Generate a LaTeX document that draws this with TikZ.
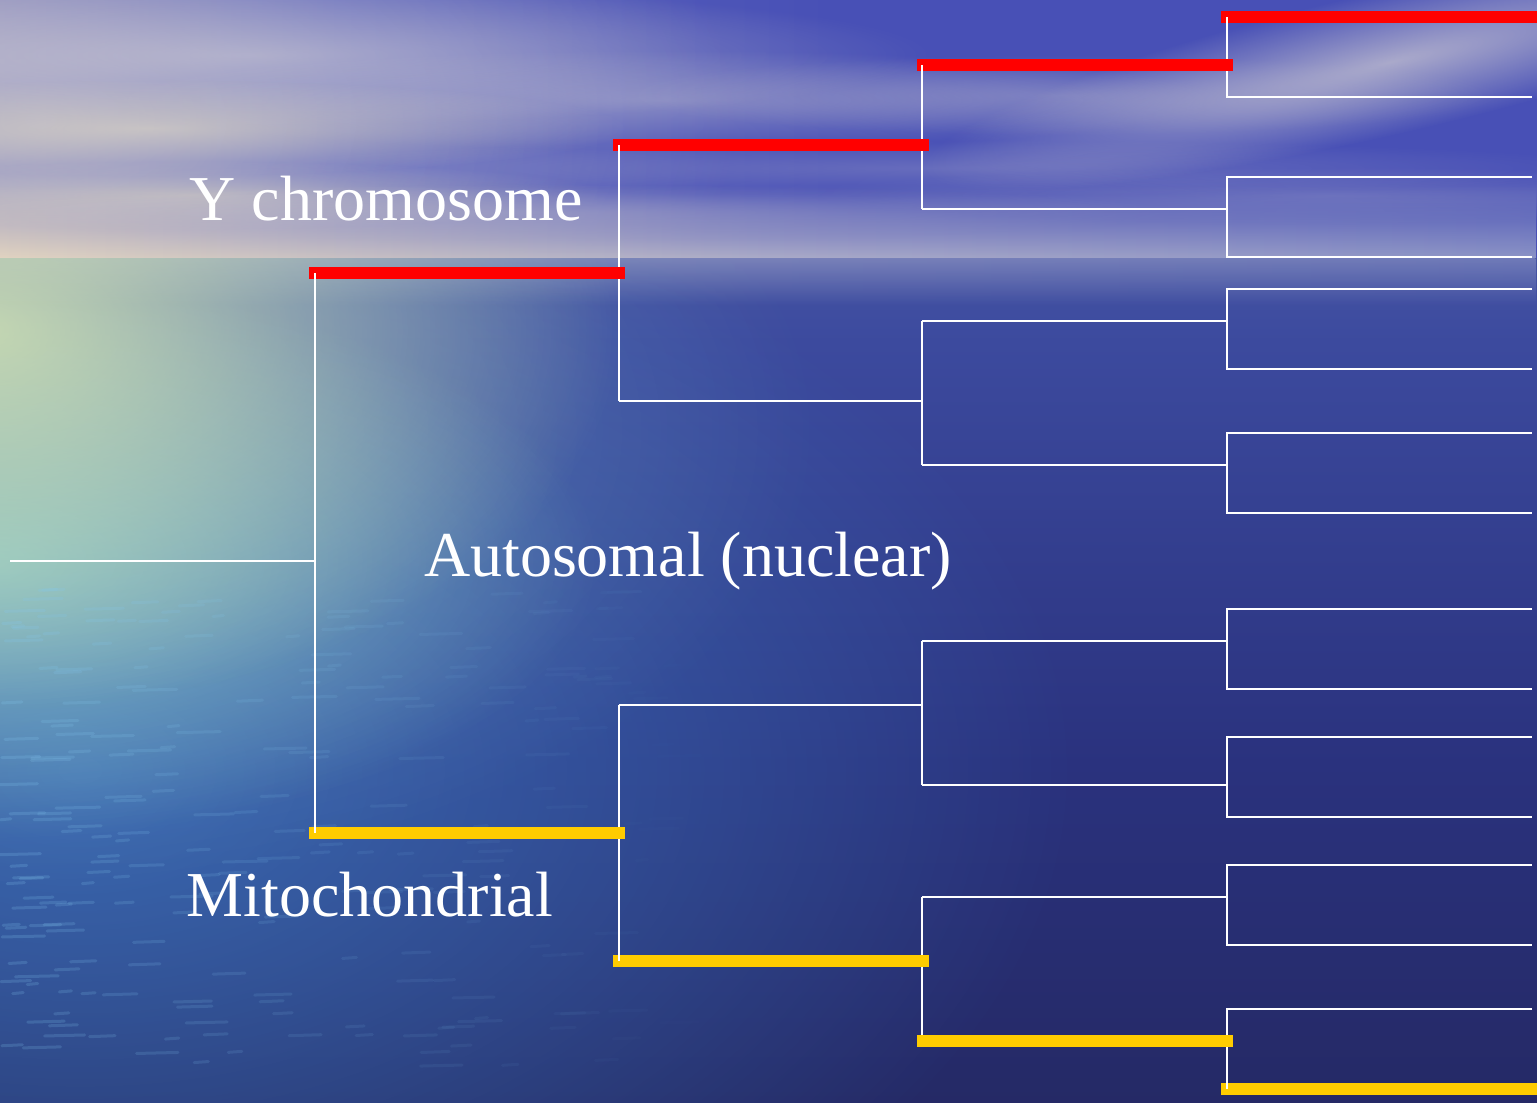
\documentclass[tikz,border=0pt]{standalone}
\usepackage{fontspec}
\setmainfont{Liberation Serif}
\usetikzlibrary{fadings,calc}

% palette
\definecolor{skyblue}{RGB}{72,80,182}
\definecolor{skyA}{RGB}{186,178,182}
\definecolor{skyB}{RGB}{150,148,186}
\definecolor{skyC}{RGB}{92,100,188}
\definecolor{hazebeige}{RGB}{226,212,192}
\definecolor{hazelav}{RGB}{172,172,200}
\definecolor{hazeblue}{RGB}{140,148,198}
\definecolor{cloudgrey}{RGB}{212,208,212}
\definecolor{cloudbeige}{RGB}{232,224,196}
\definecolor{seatop}{RGB}{122,138,190}
\definecolor{seaB}{RGB}{92,110,180}
\definecolor{seaC}{RGB}{60,74,158}
\definecolor{seaD}{RGB}{42,50,126}
\definecolor{seaE}{RGB}{36,40,98}
\definecolor{seabottom}{RGB}{34,36,78}
\definecolor{glowyellow}{RGB}{214,230,178}
\definecolor{glowcyan}{RGB}{150,216,206}
\definecolor{glowteal}{RGB}{130,168,190}
\definecolor{shallow}{RGB}{70,144,214}
\definecolor{ripplec}{RGB}{132,200,240}
\definecolor{barred}{RGB}{255,0,0}
\definecolor{bargold}{RGB}{255,204,0}

% horizontal sky colours, grey on the left to deep blue on the right
\pgfdeclarehorizontalshading{skyshade}{100bp}{%
  color(0bp)=(skyA); color(20bp)=(skyB); color(36bp)=(skyC);
  color(52bp)=(skyblue); color(100bp)=(skyblue)}
% sea colours, from the bottom edge up to the horizon
\pgfdeclareverticalshading{seashade}{100bp}{%
  color(0bp)=(seabottom); color(22bp)=(seaE); color(45bp)=(seaD);
  color(70bp)=(seaC); color(90bp)=(seaB); color(100bp)=(seatop)}

% soft blob: opaque centre, clear from half the radius outwards
\tikzfading[name=softglow, inner color=transparent!0, outer color=transparent!100]
\tikzfading[name=upfade, top color=transparent!100, bottom color=transparent!0]
\tikzfading[name=downfade, top color=transparent!0, bottom color=transparent!100]

\begin{document}
\begin{tikzpicture}[x=1pt, y=-1pt,
  wire/.style={white, line width=2pt},
  redbar/.style={barred, line width=12pt},
  goldbar/.style={bargold, line width=12pt},
  cloud/.style={path fading=softglow},
  label/.style={text=white, font=\fontsize{64}{70}\selectfont, inner sep=0pt, anchor=base}
]
\useasboundingbox (0,0) rectangle (1537,1103);

% ---------- sky ----------
\shade[shading=skyshade] (0,0) rectangle (1537,259);
\begin{scope}
  \clip (0,0) rectangle (1537,259);
  \fill[cloudgrey, opacity=0.45, cloud] (40,120) ellipse [x radius=700, y radius=380];
  \fill[cloudgrey, opacity=0.55, cloud] (250,55) ellipse [x radius=680, y radius=70];
  \fill[cloudgrey, opacity=0.4, cloud] (660,100) ellipse [x radius=560, y radius=50];
  \fill[cloudbeige, opacity=0.6, cloud] (150,128) ellipse [x radius=480, y radius=48];
  \fill[cloudbeige, opacity=0.5, cloud] (190,195) ellipse [x radius=420, y radius=34];
  \fill[cloudgrey, opacity=0.3, cloud] (1060,95) ellipse [x radius=440, y radius=40];
  \fill[cloudgrey, opacity=0.22, cloud] (930,168) ellipse [x radius=700, y radius=28];
  \fill[cloudgrey, opacity=0.22, cloud] (1330,195) ellipse [x radius=520, y radius=28];
  \fill[cloudgrey, opacity=0.25, cloud] (540,212) ellipse [x radius=640, y radius=28];
\end{scope}
\begin{scope}[transform canvas={rotate around={13:(1390,62)}}]
  \fill[cloudgrey, opacity=0.7, cloud] (1390,62) ellipse [x radius=480, y radius=72];
\end{scope}
% haze just above the horizon
\shade[left color=hazebeige, right color=hazeblue, middle color=hazelav, path fading=upfade]
  (0,185) rectangle (1537,259);

% ---------- sea ----------
\shade[shading=seashade] (0,258) rectangle (1537,1103);
\shade[left color=hazelav, right color=hazeblue, opacity=0.6, path fading=downfade]
  (0,258) rectangle (1537,305);
\begin{scope}
  \clip (0,258) rectangle (1537,1103);
  \fill[shallow, opacity=0.62, cloud] (80,770) ellipse [x radius=1000, y radius=620];
  \fill[glowteal, opacity=0.5, cloud] (0,430) ellipse [x radius=820, y radius=460];
  \fill[glowcyan, opacity=0.75, cloud] (-20,560) ellipse [x radius=620, y radius=280];
  \fill[glowyellow, opacity=0.85, cloud] (-20,330) ellipse [x radius=640, y radius=380];
  \pgfmathsetseed{4242}
  \foreach \i in {1,...,240}{
    \pgfmathsetmacro{\ripx}{rnd^1.6*700}
    \pgfmathsetmacro{\ripy}{590+rnd*480}
    \pgfmathsetmacro{\ripl}{10+rnd*34}
    \pgfmathsetmacro{\ripo}{0.2*(1-\ripx/700)}
    \draw[ripplec, line width=3pt, line cap=round, opacity=\ripo]
      (\ripx,\ripy) -- ++(\ripl,-1);
  }
\end{scope}

% ---------- tree ----------
% root and first split
\coordinate (r0) at (10,561);
\coordinate (j0) at (315,561);
\coordinate (y1) at (315,273);
\coordinate (m1) at (315,833);
% second level (x = 619)
\coordinate (y2) at (619,145);
\coordinate (a2) at (619,401);
\coordinate (a3) at (619,705);
\coordinate (m2) at (619,961);
% third level (x = 922)
\foreach \n/\t/\b in {p/65/209, q/321/465, s/641/785, u/897/1041}{
  \coordinate (\n t) at (922,\t);
  \coordinate (\n b) at (922,\b);
}
% fourth level (x = 1226.5), leaves end at x = 1532
\foreach \n/\t/\b in {g1/17/97, g2/177/257, g3/289/369, g4/433/513,
                      g5/609/689, g6/737/817, g7/865/945, g8/1009/1089}{
  \coordinate (\n t) at (1226.5,\t);
  \coordinate (\n b) at (1226.5,\b);
  \coordinate (\n te) at (1532,\t);
  \coordinate (\n be) at (1532,\b);
}

% white connectors
\draw[wire] (r0) -- (j0);
\draw[wire] (y1) -- (m1);
\draw[wire] (y1) -- (y1 -| y2);
\draw[wire] (m1) -- (m1 -| y2);
\draw[wire] (y2) -- (a2);
\draw[wire] (a3) -- (m2);
\draw[wire] (y2) -- (y2 -| pt);
\draw[wire] (a2) -- (a2 -| qt);
\draw[wire] (a3) -- (a3 -| st);
\draw[wire] (m2) -- (m2 -| ut);
\foreach \n in {p,q,s,u}{
  \draw[wire] (\n t) -- (\n b);
}
\draw[wire] (pt) -- (pt -| g1t);
\draw[wire] (pb) -- (pb -| g2t);
\draw[wire] (qt) -- (qt -| g3t);
\draw[wire] (qb) -- (qb -| g4t);
\draw[wire] (st) -- (st -| g5t);
\draw[wire] (sb) -- (sb -| g6t);
\draw[wire] (ut) -- (ut -| g7t);
\draw[wire] (ub) -- (ub -| g8t);
\foreach \n in {g1,g2,g3,g4,g5,g6,g7,g8}{
  \draw[wire] (\n te) -- (\n t) -- (\n b) -- (\n be);
}

% red line (paternal) and gold line (maternal)
\draw[redbar]  ($(y1)+(-6,0)$) -- ($(y1 -| y2)+(6,0)$);
\draw[redbar]  ($(y2)+(-6,0)$) -- ($(y2 -| pt)+(7,0)$);
\draw[redbar]  ($(pt)+(-5,0)$) -- ($(pt -| g1t)+(6.5,0)$);
\draw[redbar]  ($(g1t)+(-5.5,0)$) -- ($(g1te)+(5,0)$);
\draw[goldbar] ($(m1)+(-6,0)$) -- ($(m1 -| y2)+(6,0)$);
\draw[goldbar] ($(m2)+(-6,0)$) -- ($(m2 -| ut)+(7,0)$);
\draw[goldbar] ($(ub)+(-5,0)$) -- ($(ub -| g8t)+(6.5,0)$);
\draw[goldbar] ($(g8b)+(-5.5,0)$) -- ($(g8be)+(5,0)$);

% vertical stubs showing on their own bars
\draw[wire] (y1) -- ++(0,6);
\draw[wire] (m1) -- ++(0,-6);
\draw[wire] (y2) -- ++(0,6);
\draw[wire] (m2) -- ++(0,-6);
\draw[wire] (pt) -- ++(0,6);
\draw[wire] (g1t) -- ++(0,6);
\draw[wire] (g8b) -- ++(0,-6);

% labels
\node[label] (ylab) at (386,220) {Y chromosome};
\node[label] (alab) at (688,576) {Autosomal (nuclear)};
\node[label] (mlab) at (370,916) {Mitochondrial};
\end{tikzpicture}
\end{document}
